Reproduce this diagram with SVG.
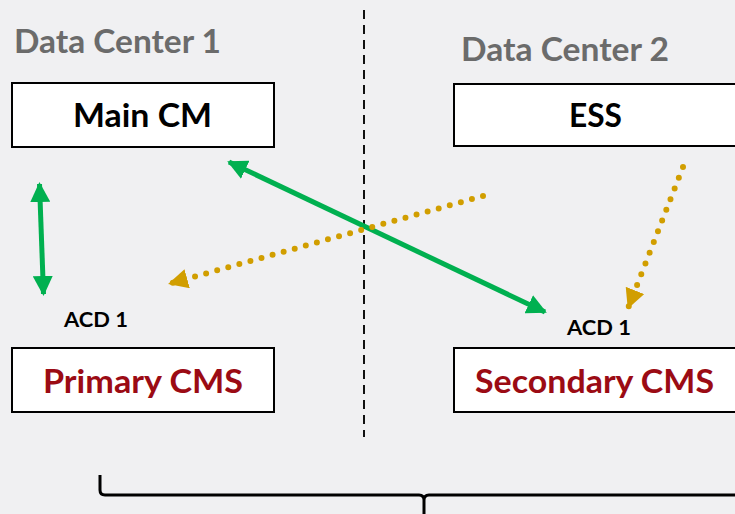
<svg xmlns="http://www.w3.org/2000/svg" width="735" height="514" viewBox="0 0 735 514">
<defs>
<style>
.bg{fill:#f0f0f2}
.box{fill:#ffffff;stroke:#000000;stroke-width:2}
.t{font-family:Lato,"Open Sans","Liberation Sans",sans-serif;font-weight:bold}
.dc{fill:#6b6b6b;font-size:32px}
.blk{fill:#000000;font-size:33px}
.red{fill:#9b0b14;font-size:33px}
.acd{fill:#000000;font-size:21px}
.green{stroke:#00b050;stroke-width:5;fill:none}
.gold{stroke:#d19e00;stroke-width:6;fill:none;stroke-linecap:round;stroke-dasharray:0 11.5}
</style>
<marker id="ag" viewBox="0 0 10 10" refX="9" refY="5" markerWidth="4" markerHeight="4" orient="auto-start-reverse" markerUnits="strokeWidth">
<path d="M0,0 L10,5 L0,10 Z" fill="#00b050"/>
</marker>
<marker id="ay" viewBox="0 0 10 10" refX="9" refY="5" markerWidth="3.3" markerHeight="3.3" orient="auto" markerUnits="strokeWidth">
<path d="M0,0 L10,5 L0,10 Z" fill="#d19e00"/>
</marker>
</defs>
<rect class="bg" x="0" y="0" width="735" height="514"/>
<line x1="364" y1="10" x2="364" y2="437" stroke="#111" stroke-width="2" stroke-dasharray="9,6"/>
<text class="t dc" x="14" y="53" textLength="207" lengthAdjust="spacingAndGlyphs">Data Center 1</text>
<text class="t dc" x="461" y="61" textLength="208" lengthAdjust="spacingAndGlyphs">Data Center 2</text>
<g id="main-cm">
<rect class="box" x="12" y="83" width="262" height="64"/>
<text class="t blk" x="73" y="127" textLength="139" lengthAdjust="spacingAndGlyphs">Main CM</text>
</g>
<g id="ess">
<rect class="box" x="454" y="84" width="300" height="62"/>
<text class="t blk" x="569" y="127" textLength="53" lengthAdjust="spacingAndGlyphs">ESS</text>
</g>
<g id="primary-cms">
<rect class="box" x="12" y="348" width="262" height="64"/>
<text class="t red" x="43" y="393" textLength="200" lengthAdjust="spacingAndGlyphs">Primary CMS</text>
</g>
<g id="secondary-cms">
<rect class="box" x="454" y="348" width="300" height="64"/>
<text class="t red" x="475" y="393" textLength="239" lengthAdjust="spacingAndGlyphs">Secondary CMS</text>
</g>
<g id="acd-left"><text class="t acd" x="64" y="327" textLength="64" lengthAdjust="spacingAndGlyphs">ACD 1</text></g>
<g id="acd-right"><text class="t acd" x="567" y="335" textLength="64" lengthAdjust="spacingAndGlyphs">ACD 1</text></g>
<g id="connectors">
<line class="green" x1="39.5" y1="184" x2="43.5" y2="294" marker-start="url(#ag)" marker-end="url(#ag)"/>
<line class="green" x1="229" y1="162" x2="545" y2="312" marker-start="url(#ag)" marker-end="url(#ag)"/>
<line class="gold" x1="483" y1="196" x2="170" y2="283.5" marker-end="url(#ay)"/>
<line class="gold" x1="683" y1="167" x2="628.5" y2="307" marker-end="url(#ay)"/>
<path d="M100,475 L100,490 Q100,495 105,495 L419,495 Q424,495 424,500 L424,514 M424,500 Q424,495 429,495 L740,495" fill="none" stroke="#000" stroke-width="3"/>
</g>
</svg>
